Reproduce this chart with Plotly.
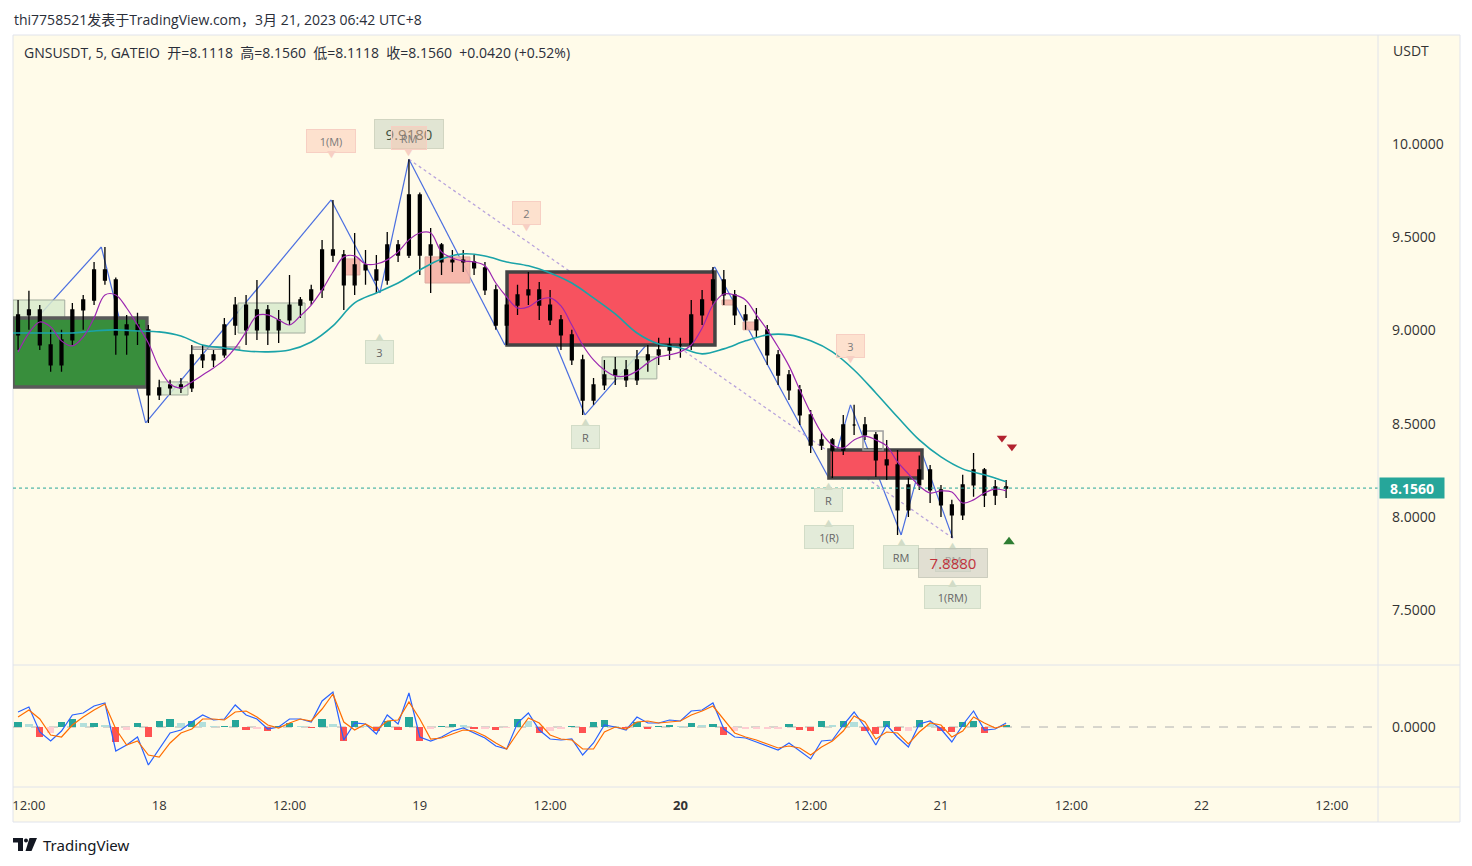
import pandas as pd
import plotly.graph_objects as go
from plotly.subplots import make_subplots

# ---------------- data ----------------
candle_times = pd.date_range("2023-03-17 11:00", "2023-03-21 06:00", freq="1h")

opens = [8.977, 9.084, 9.111, 8.923, 8.816, 8.950, 9.111, 9.164, 9.325, 9.271,
         8.977, 9.030, 9.004, 8.655, 8.693, 8.709, 8.693, 8.870, 8.843, 8.870,
         9.030, 9.137, 9.004, 9.111, 9.004, 9.057, 9.137, 9.164, 9.218, 9.432,
         9.405, 9.245, 9.352, 9.325, 9.271, 9.459, 9.405, 9.727, 9.405, 9.459,
         9.368, 9.378, 9.368, 9.336, 9.218, 9.030, 9.137, 9.191, 9.218, 9.137,
         9.057, 8.977, 8.843, 8.628, 8.709, 8.762, 8.789, 8.736, 8.843, 8.870,
         8.896, 8.923, 8.923, 9.084, 9.164, 9.271, 9.191, 9.084, 9.057, 9.004,
         8.870, 8.762, 8.682, 8.548, 8.387, 8.414, 8.360, 8.494, 8.494, 8.441,
         8.307, 8.280, 8.039, 8.173, 8.253, 8.146, 8.066, 8.012, 8.173, 8.253,
         8.119, 8.162]
highs = [9.164, 9.213, 9.137, 9.004, 9.004, 9.148, 9.191, 9.368, 9.448, 9.285,
         9.084, 9.095, 9.030, 8.736, 8.736, 8.746, 8.923, 8.923, 8.896, 9.068,
         9.180, 9.191, 9.271, 9.137, 9.111, 9.298, 9.180, 9.245, 9.486, 9.700,
         9.432, 9.523, 9.432, 9.405, 9.529, 9.486, 9.918, 9.740, 9.550, 9.470,
         9.432, 9.432, 9.405, 9.368, 9.245, 9.180, 9.245, 9.314, 9.261, 9.218,
         9.084, 9.004, 8.870, 8.746, 8.843, 8.859, 8.843, 8.896, 8.923, 8.961,
         8.961, 8.961, 9.164, 9.218, 9.341, 9.325, 9.218, 9.137, 9.121, 9.030,
         8.896, 8.789, 8.709, 8.575, 8.452, 8.425, 8.548, 8.602, 8.537, 8.457,
         8.414, 8.360, 8.210, 8.330, 8.280, 8.173, 8.093, 8.227, 8.344, 8.264,
         8.200, 8.200]
lows = [8.896, 9.004, 8.896, 8.779, 8.779, 8.923, 9.004, 9.137, 9.245, 8.870,
        8.870, 8.923, 8.505, 8.628, 8.655, 8.666, 8.671, 8.800, 8.805, 8.854,
        8.977, 8.923, 8.950, 8.923, 8.934, 9.030, 9.068, 9.137, 9.175, 9.368,
        9.111, 9.191, 9.245, 9.202, 9.245, 9.368, 9.389, 9.298, 9.202, 9.298,
        9.314, 9.314, 9.298, 9.191, 9.004, 8.923, 9.084, 9.137, 9.057, 9.030,
        8.896, 8.816, 8.548, 8.602, 8.682, 8.709, 8.698, 8.709, 8.779, 8.816,
        8.843, 8.854, 8.896, 9.030, 9.137, 9.137, 9.030, 9.004, 8.966, 8.816,
        8.709, 8.628, 8.494, 8.344, 8.360, 8.210, 8.334, 8.441, 8.414, 8.216,
        8.200, 7.905, 8.001, 8.146, 8.076, 8.001, 7.888, 7.985, 8.109, 8.055,
        8.066, 8.103]
closes = [9.084, 9.111, 8.923, 8.816, 8.950, 9.111, 9.164, 9.325, 9.271, 8.977,
          9.030, 9.004, 8.655, 8.693, 8.709, 8.693, 8.870, 8.843, 8.870, 9.030,
          9.137, 9.004, 9.111, 9.004, 9.057, 9.137, 9.164, 9.218, 9.432, 9.405,
          9.245, 9.352, 9.325, 9.271, 9.459, 9.405, 9.727, 9.405, 9.459, 9.368,
          9.378, 9.368, 9.336, 9.218, 9.030, 9.137, 9.191, 9.218, 9.137, 9.057,
          8.977, 8.843, 8.628, 8.709, 8.762, 8.789, 8.736, 8.843, 8.870, 8.896,
          8.923, 8.923, 9.084, 9.164, 9.271, 9.191, 9.084, 9.057, 9.004, 8.870,
          8.762, 8.682, 8.548, 8.387, 8.414, 8.360, 8.494, 8.494, 8.441, 8.307,
          8.280, 8.039, 8.173, 8.253, 8.146, 8.066, 8.012, 8.173, 8.253, 8.119,
          8.162, 8.156]

# purple (fast) moving average, hourly
ma_fast = [8.886, 8.987, 9.046, 9.020, 8.945, 8.918, 8.966, 9.068, 9.191, 9.191,
           9.121, 9.030, 8.934, 8.800, 8.714, 8.693, 8.725, 8.762, 8.800, 8.843,
           8.907, 8.993, 9.079, 9.084, 9.057, 9.030, 9.079, 9.137, 9.218, 9.314,
           9.395, 9.400, 9.357, 9.357, 9.379, 9.422, 9.486, 9.523, 9.523, 9.422,
           9.389, 9.373, 9.368, 9.347, 9.255, 9.180, 9.121, 9.127, 9.164, 9.175,
           9.132, 9.030, 8.923, 8.843, 8.789, 8.757, 8.757, 8.784, 8.827, 8.859,
           8.870, 8.886, 8.923, 9.014, 9.137, 9.196, 9.191, 9.164, 9.084, 9.004,
           8.912, 8.811, 8.682, 8.559, 8.452, 8.387, 8.371, 8.414, 8.435, 8.414,
           8.382, 8.296, 8.232, 8.168, 8.130, 8.141, 8.135, 8.076, 8.093, 8.130,
           8.151, 8.141]

# teal (slow) moving average, every 2 hours
ma_slow_times = pd.date_range("2023-03-17 10:00", "2023-03-21 06:00", freq="2h")
ma_slow = [8.987, 8.987, 8.987, 8.987, 8.998, 9.004, 8.998, 8.993, 8.971, 8.923,
           8.907, 8.891, 8.886, 8.896, 8.939, 9.025, 9.148, 9.202, 9.255, 9.325,
           9.384, 9.411, 9.400, 9.368, 9.347, 9.309, 9.255, 9.175, 9.089, 8.987,
           8.928, 8.907, 8.875, 8.902, 8.945, 8.977, 8.977, 8.945, 8.886, 8.789,
           8.666, 8.537, 8.414, 8.323, 8.259, 8.227, 8.190]

# MACD pane (hourly)
macd_line = [0.015, 0.020, -0.005, -0.014, -0.004, 0.012, 0.014, 0.021, 0.024, -0.024,
             -0.018, -0.010, -0.038, -0.022, -0.006, -0.003, 0.005, 0.012, 0.007, 0.008,
             0.022, 0.012, 0.008, -0.002, 0.000, 0.008, 0.008, 0.005, 0.026, 0.035,
             -0.013, 0.004, 0.003, -0.007, 0.012, 0.003, 0.034, -0.010, -0.014, -0.010,
             -0.004, -0.001, -0.006, -0.011, -0.019, -0.022, 0.004, 0.014, -0.003, -0.012,
             -0.013, -0.012, -0.028, -0.016, 0.002, 0.000, -0.003, 0.010, 0.004, 0.004,
             0.007, 0.006, 0.016, 0.017, 0.024, -0.002, -0.010, -0.011, -0.015, -0.019,
             -0.023, -0.016, -0.024, -0.032, -0.014, -0.013, 0.002, 0.015, 0.000, -0.018,
             0.002, -0.010, -0.020, 0.003, 0.006, -0.002, -0.015, 0.002, 0.016, -0.003,
             -0.002, 0.004]
signal_line = [0.010, 0.017, 0.008, -0.008, -0.010, 0.002, 0.010, 0.017, 0.023, -0.002,
               -0.018, -0.014, -0.028, -0.030, -0.016, -0.006, -0.002, 0.008, 0.008, 0.007,
               0.015, 0.016, 0.010, 0.002, -0.001, 0.004, 0.008, 0.006, 0.018, 0.033,
               0.005, -0.003, 0.003, -0.003, 0.006, 0.007, 0.025, 0.008, -0.012, -0.011,
               -0.007, -0.003, -0.004, -0.009, -0.016, -0.022, -0.006, 0.009, 0.004, -0.008,
               -0.012, -0.013, -0.022, -0.022, -0.005, 0.000, -0.002, 0.005, 0.006, 0.004,
               0.005, 0.006, 0.012, 0.016, 0.021, 0.008, -0.006, -0.010, -0.013, -0.017,
               -0.021, -0.019, -0.021, -0.028, -0.020, -0.014, -0.004, 0.011, 0.005, -0.012,
               -0.005, -0.006, -0.017, -0.005, 0.004, 0.002, -0.010, -0.004, 0.010, 0.004,
               -0.001, 0.002]
macd_hist = [0.005, 0.003, -0.010, -0.006, 0.005, 0.008, 0.004, 0.004, 0.002, -0.015,
             -0.003, 0.004, -0.010, 0.006, 0.008, 0.004, 0.006, 0.005, 0.001, 0.001,
             0.007, -0.003, -0.002, -0.004, 0.001, 0.004, 0.001, -0.001, 0.008, 0.003,
             -0.014, 0.006, 0.001, -0.004, 0.006, -0.003, 0.010, -0.014, -0.002, 0.001,
             0.003, 0.002, -0.002, -0.002, -0.003, -0.001, 0.008, 0.006, -0.006, -0.004,
             -0.002, 0.001, -0.006, 0.005, 0.007, 0.001, -0.001, 0.005, -0.002, 0.001,
             0.002, 0.001, 0.004, 0.002, 0.003, -0.008, -0.004, -0.002, -0.002, -0.002,
             -0.002, 0.003, -0.003, -0.004, 0.006, 0.002, 0.006, 0.005, -0.004, -0.007,
             0.006, -0.004, -0.004, 0.007, 0.003, -0.004, -0.005, 0.005, 0.006, -0.006,
             -0.001, 0.002]

# zigzag pivots
zz_times = ["2023-03-17 13:00", "2023-03-17 18:40", "2023-03-17 22:45", "2023-03-18 15:50",
            "2023-03-18 20:20", "2023-03-18 23:00", "2023-03-19 07:50", "2023-03-19 09:47",
            "2023-03-19 15:13", "2023-03-20 03:10", "2023-03-20 13:40", "2023-03-20 15:40",
            "2023-03-20 20:20", "2023-03-20 22:20", "2023-03-21 01:05"]
zz_prices = [9.084, 9.448, 8.505, 9.700, 9.202, 9.918, 8.923, 9.314,
             8.548, 9.341, 8.210, 8.602, 7.905, 8.330, 7.888]

# dotted trend line (from the 9.9180 high to the 7.8880 low)
trend_times = ["2023-03-18 23:00", "2023-03-21 01:05"]
trend_prices = [9.918, 7.888]

# supply / demand zones
zone_start = ["2023-03-17 10:32", "2023-03-17 10:32", "2023-03-18 00:00", "2023-03-18 07:16",
              "2023-03-18 03:06", "2023-03-18 17:07", "2023-03-19 00:29", "2023-03-19 08:02",
              "2023-03-19 16:47", "2023-03-20 03:50", "2023-03-20 05:46", "2023-03-20 13:41",
              "2023-03-20 16:49"]
zone_end = ["2023-03-17 15:18", "2023-03-17 22:52", "2023-03-18 02:39", "2023-03-18 13:26",
            "2023-03-18 07:24", "2023-03-18 18:29", "2023-03-19 04:37", "2023-03-20 03:11",
            "2023-03-19 21:50", "2023-03-20 05:02", "2023-03-20 07:03", "2023-03-20 22:15",
            "2023-03-20 18:40"]
zone_top = [9.164, 9.068, 8.725, 9.148, 8.912, 9.384, 9.395, 9.314, 8.859, 9.164, 9.046, 8.360, 8.462]
zone_bottom = [8.923, 8.698, 8.655, 8.987, 8.900, 9.298, 9.255, 8.923, 8.741, 9.137, 9.004, 8.210, 8.360]
zone_kind = ["demand_weak", "demand", "demand_weak", "demand_weak", "outline", "supply_weak",
             "supply_weak", "supply", "demand_weak", "supply_weak", "supply_weak", "supply", "outline"]

# pivot labels: text, pivot index, side
label_text = ["1(M)", "RM", "2", "3", "R", "3", "R", "1(R)", "RM", "RM", "1(RM)"]
label_pivot = [3, 5, 7, 4, 8, 11, 10, 10, 12, 14, 14]
label_kind = ["pink", "pink", "pink", "green", "green", "pink", "green", "green", "green", "green", "green"]
label_level = [2, 1, 2, -2, -1, 2, -1, -2, -1, -1, -2]

value_text = ["9.9180", "7.8880"]
value_pivot = [5, 14]

sell_times = ["2023-03-21 05:37", "2023-03-21 06:32"]
sell_prices = [8.425, 8.377]
buy_times = ["2023-03-21 06:16"]
buy_prices = [7.868]

last_price = closes[-1]

x_range = ["2023-03-17 10:32", "2023-03-22 16:15"]
x_tick_vals = ["2023-03-17 12:00", "2023-03-18 00:00", "2023-03-18 12:00", "2023-03-19 00:00",
               "2023-03-19 12:00", "2023-03-20 00:00", "2023-03-20 12:00", "2023-03-21 00:00",
               "2023-03-21 12:00", "2023-03-22 00:00", "2023-03-22 12:00"]
x_tick_text = ["12:00", "18", "12:00", "19", "12:00", "<b>20</b>", "12:00", "21", "12:00", "22", "12:00"]
price_ticks = [7.5, 8.0, 8.5, 9.0, 9.5, 10.0]

# ---------------- styling ----------------
FONT = "Open Sans, Noto Sans CJK SC, sans-serif"
BG = "#fffbe9"
TXT = "#333333"
W, H = 1472, 866
L, R, T, B = 13, 94, 35, 79
PW, PH = W - L - R, H - T - B


def px_x(px):
    return (px - L) / PW


def px_y(py):
    return (H - B - py) / PH


fig = make_subplots(rows=2, cols=1, shared_xaxes=True, vertical_spacing=0,
                    row_heights=[630 / 752, 122 / 752])

fig.add_trace(go.Candlestick(
    x=candle_times, open=opens, high=highs, low=lows, close=closes,
    increasing=dict(line=dict(color="#000000", width=1.3), fillcolor="#000000"),
    decreasing=dict(line=dict(color="#000000", width=1.3), fillcolor="#000000"),
    whiskerwidth=0, hoverinfo="skip", showlegend=False), row=1, col=1)

fig.add_trace(go.Scatter(x=ma_slow_times, y=ma_slow, mode="lines", line=dict(color="#1aa3a8", width=1.6, shape="spline"),
                         hoverinfo="skip", showlegend=False), row=1, col=1)
fig.add_trace(go.Scatter(x=candle_times, y=ma_fast, mode="lines", line=dict(color="#9c27b0", width=1.2, shape="spline"),
                         hoverinfo="skip", showlegend=False), row=1, col=1)

fig.add_trace(go.Scatter(x=sell_times, y=sell_prices, mode="markers",
                         marker=dict(symbol="triangle-down", size=9, color="#b2222f"),
                         hoverinfo="skip", showlegend=False), row=1, col=1)
fig.add_trace(go.Scatter(x=buy_times, y=buy_prices, mode="markers",
                         marker=dict(symbol="triangle-up", size=10, color="#2e7d32"),
                         hoverinfo="skip", showlegend=False), row=1, col=1)

# MACD histogram colours (rising / falling)
hist_colors = []
prev = 0.0
for v in macd_hist:
    if v >= 0:
        hist_colors.append("#26a69a" if v >= prev else "#b2dfdb")
    else:
        hist_colors.append("#ff5252" if v < prev else "#ffcdd2")
    prev = v

fig.add_trace(go.Bar(x=candle_times, y=macd_hist, marker=dict(color=hist_colors, line=dict(width=0)),
                     width=2400000, hoverinfo="skip", showlegend=False), row=2, col=1)
fig.add_trace(go.Scatter(x=candle_times, y=macd_line, mode="lines", line=dict(color="#2962ff", width=1.2),
                         hoverinfo="skip", showlegend=False), row=2, col=1)
fig.add_trace(go.Scatter(x=candle_times, y=signal_line, mode="lines", line=dict(color="#ff6d00", width=1.2),
                         hoverinfo="skip", showlegend=False), row=2, col=1)

shapes = []
# frame / background
shapes.append(dict(type="rect", xref="paper", yref="paper", x0=px_x(13), x1=px_x(1460), y0=px_y(822), y1=px_y(35),
                   fillcolor=BG, line=dict(color="#e0e3eb", width=1), layer="below"))

# zigzag (drawn beneath zones)
for i in range(len(zz_times) - 1):
    shapes.append(dict(type="line", xref="x", yref="y", x0=zz_times[i], y0=zz_prices[i],
                       x1=zz_times[i + 1], y1=zz_prices[i + 1],
                       line=dict(color="#4a6ee0", width=1.2), layer="below"))
shapes.append(dict(type="line", xref="x", yref="y", x0=trend_times[0], y0=trend_prices[0],
                   x1=trend_times[1], y1=trend_prices[1],
                   line=dict(color="#b9a4dc", width=1.3, dash="dot"), layer="below"))

zone_style = {
    "demand": dict(fill="#388e3c", line="#5a5a5a", w=3.5),
    "supply": dict(fill="#f7525f", line="#434343", w=3.5),
    "demand_weak": dict(fill="rgba(216,234,204,0.85)", line="#a3ad9f", w=1),
    "supply_weak": dict(fill="rgba(245,176,165,0.9)", line="#dcaaa0", w=1),
    "outline": dict(fill="rgba(0,0,0,0)", line="#9e9e9e", w=1.5),
}
for s, e, tp, bt, k in zip(zone_start, zone_end, zone_top, zone_bottom, zone_kind):
    st = zone_style[k]
    shapes.append(dict(type="rect", xref="x", yref="y", x0=s, x1=e, y0=bt, y1=tp,
                       fillcolor=st["fill"], line=dict(color=st["line"], width=st["w"]), layer="below"))

# last price line
shapes.append(dict(type="line", xref="paper", yref="y", x0=0, x1=1, y0=last_price, y1=last_price,
                   line=dict(color="#26a69a", width=1, dash="dot"), layer="above"))
# MACD zero line
shapes.append(dict(type="line", xref="paper", yref="y2", x0=0, x1=1, y0=0, y1=0,
                   line=dict(color="#b0b0b0", width=1, dash="dash"), layer="below"))
# pane separators
for py in (665, 787):
    shapes.append(dict(type="line", xref="paper", yref="paper", x0=px_x(13), x1=px_x(1460),
                       y0=px_y(py), y1=px_y(py), line=dict(color="#e0e3eb", width=1), layer="above"))
shapes.append(dict(type="line", xref="paper", yref="paper", x0=1, x1=1, y0=px_y(822), y1=px_y(35),
                   line=dict(color="#e0e3eb", width=1), layer="above"))

# TradingView logo (decoration)
shapes.append(dict(type="rect", xref="paper", yref="paper", x0=px_x(13), x1=px_x(23), y0=px_y(842.5), y1=px_y(838),
                   fillcolor="#131722", line=dict(width=0)))
shapes.append(dict(type="rect", xref="paper", yref="paper", x0=px_x(18), x1=px_x(23), y0=px_y(851), y1=px_y(838),
                   fillcolor="#131722", line=dict(width=0)))
shapes.append(dict(type="circle", xref="paper", yref="paper", x0=px_x(24), x1=px_x(28), y0=px_y(842.5), y1=px_y(838.5),
                   fillcolor="#131722", line=dict(width=0)))
shapes.append(dict(type="path", xref="paper", yref="paper",
                   path="M {a},{b} L {c},{b} L {d},{e} L {f},{e} Z".format(
                       a=px_x(29.5), b=px_y(838), c=px_x(37), d=px_x(31.5), e=px_y(851), f=px_x(25.5)),
                   fillcolor="#131722", line=dict(width=0)))

annotations = []
annotations.append(dict(xref="paper", yref="paper", x=px_x(12), y=px_y(19), xanchor="left", yanchor="middle",
                        text="thi7758521发表于TradingView.com，3月 21, 2023 06:42 UTC+8", showarrow=False,
                        font=dict(family=FONT, size=14, color="#2a2e39")))
annotations.append(dict(xref="paper", yref="paper", x=px_x(22), y=px_y(53), xanchor="left", yanchor="middle",
                        text="GNSUSDT, 5, GATEIO\u00a0 开=8.1118\u00a0 高=8.1560\u00a0 低=8.1118\u00a0 收=8.1560\u00a0 +0.0420 (+0.52%)",
                        showarrow=False, font=dict(family=FONT, size=14, color="#2a2e39")))
annotations.append(dict(xref="paper", yref="paper", x=px_x(1391), y=px_y(50), xanchor="left", yanchor="middle",
                        text="USDT", showarrow=False, font=dict(family=FONT, size=14, color=TXT)))
annotations.append(dict(xref="paper", yref="paper", x=px_x(41), y=px_y(845), xanchor="left", yanchor="middle",
                        text="TradingView", showarrow=False, font=dict(family="Noto Sans, sans-serif", size=15, color="#131722")))
annotations.append(dict(xref="paper", yref="y", x=px_x(1379), y=last_price, xanchor="left", yanchor="middle",
                        text="<b>8.1560</b>", showarrow=False, bgcolor="#26a69a", width=62, height=18, borderpad=1,
                        font=dict(family=FONT, size=14, color="#ffffff")))

value_styles = [("rgba(222,226,208,0.9)", "#44533f", 25, "rgba(205,210,190,0.9)"),
                ("rgba(205,205,195,0.6)", "#c0313b", -25, "rgba(180,185,170,0.6)")]
value_on_top = [False, True]


def value_box(i):
    bg, fc, s, bd = value_styles[i]
    return dict(xref="x", yref="y", x=zz_times[value_pivot[i]], y=zz_prices[value_pivot[i]], yshift=s,
                showarrow=False, text=value_text[i], bgcolor=bg, bordercolor=bd, borderwidth=1,
                width=66, height=26, font=dict(family=FONT, size=15, color=fc))


for i in range(len(value_text)):
    if not value_on_top[i]:
        annotations.append(value_box(i))

label_colors = {"pink": ("rgba(250,192,174,0.45)", "#f7cfc3", "#7a7a7a"),
                "green": ("#e3ebd9", "#d2dcc7", "#666666")}
level_shift = {2: 59, 1: 21, -1: -22, -2: -59}
for txt, pi, kind, lev in zip(label_text, label_pivot, label_kind, label_level):
    bg, bd, fc = label_colors[kind]
    s = level_shift[lev]
    w = 18 + 7 * len(txt)
    annotations.append(dict(xref="x", yref="y", x=zz_times[pi], y=zz_prices[pi], yshift=s, showarrow=False,
                            text=txt, bgcolor=bg, bordercolor=bd, borderwidth=1, width=w, height=20,
                            font=dict(family=FONT, size=11, color=fc)))
    ptr = "▼" if s > 0 else "▲"
    annotations.append(dict(xref="x", yref="y", x=zz_times[pi], y=zz_prices[pi],
                            yshift=s - 14 if s > 0 else s + 14, showarrow=False,
                            text=ptr, font=dict(size=9, color=bd)))

for i in range(len(value_text)):
    if value_on_top[i]:
        annotations.append(value_box(i))

fig.update_layout(
    width=W, height=H, margin=dict(l=L, r=R, t=T, b=B),
    paper_bgcolor="#ffffff", plot_bgcolor=BG,
    shapes=shapes, annotations=annotations, showlegend=False, bargap=0, boxgap=0.62,
    font=dict(family=FONT, size=13, color=TXT),
)
fig.update_xaxes(type="date", range=x_range, showgrid=False, zeroline=False, showline=False,
                 rangeslider_visible=False)
fig.update_xaxes(showticklabels=False, row=1, col=1)
fig.update_xaxes(tickvals=x_tick_vals, ticktext=x_tick_text, ticks="", ticklabelstandoff=9,
                 tickfont=dict(family=FONT, size=13, color=TXT), row=2, col=1)
fig.update_yaxes(side="right", showgrid=False, zeroline=False, showline=False, ticks="",
                 ticklabelstandoff=13, tickfont=dict(family=FONT, size=14, color=TXT))
fig.update_yaxes(range=[7.208, 10.584], tickvals=price_ticks, tickformat=".4f", row=1, col=1)
fig.update_yaxes(range=[-0.060, 0.062], tickvals=[0], ticktext=["0.0000"], row=2, col=1)

fig.write_html("out.html", config={"displayModeBar": False},
               post_script="document.body.style.margin='0';document.body.style.overflow='hidden';")
